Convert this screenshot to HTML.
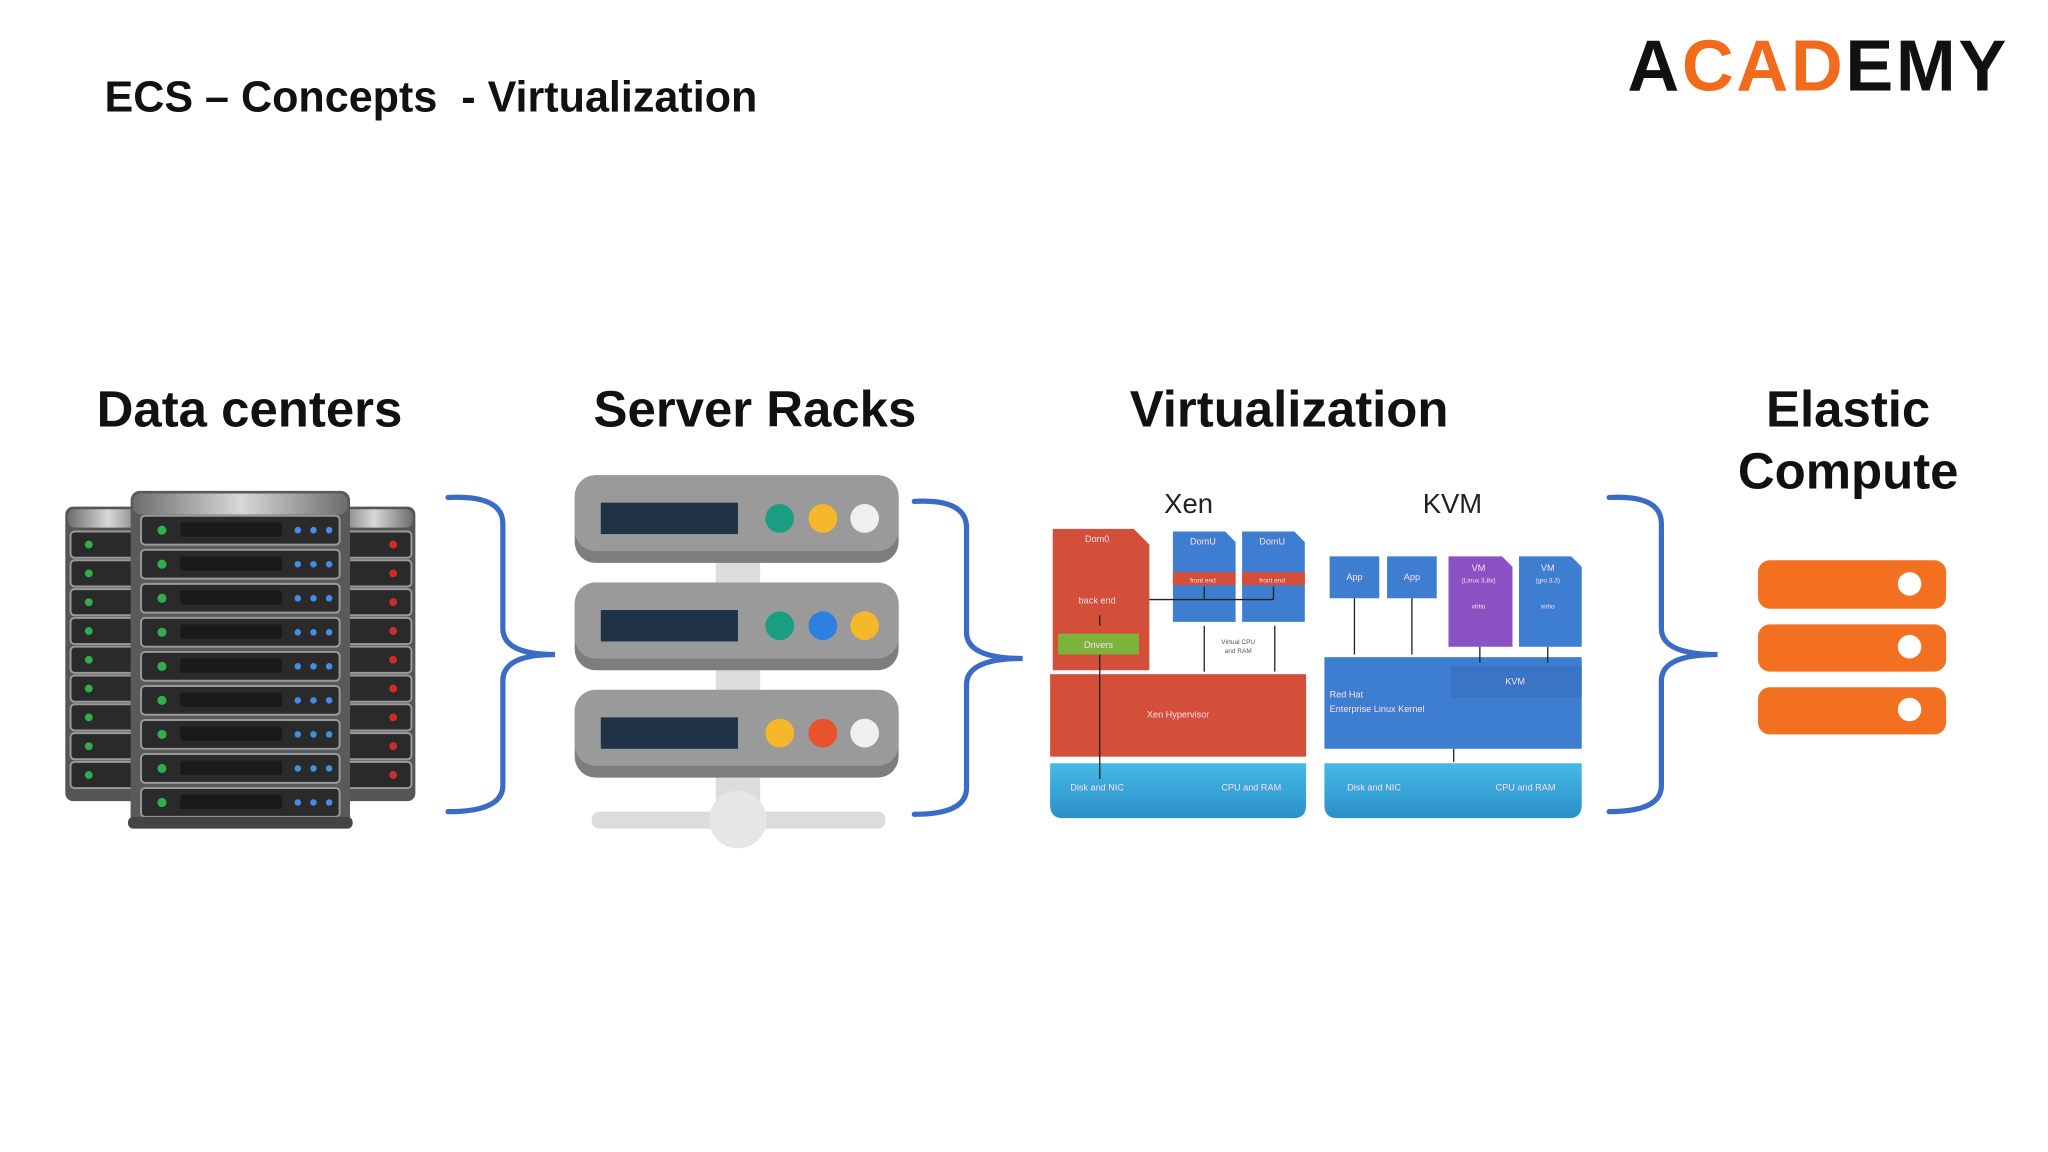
<!DOCTYPE html>
<html><head><meta charset="utf-8"><style>
html,body{margin:0;padding:0;background:#fff;width:2048px;height:1152px;overflow:hidden}
svg{display:block}
text{font-family:"Liberation Sans",sans-serif}
</style></head><body>
<svg width="2048" height="1152" viewBox="0 0 1568 880" preserveAspectRatio="none" xmlns="http://www.w3.org/2000/svg">
<defs>
<linearGradient id="mg" x1="0" x2="1"><stop offset="0" stop-color="#6d6d6d"/><stop offset="0.5" stop-color="#d8d8d8"/><stop offset="1" stop-color="#6d6d6d"/></linearGradient>
<linearGradient id="bl" x1="0" y1="0" x2="0" y2="1"><stop offset="0" stop-color="#47b9e6"/><stop offset="1" stop-color="#2a8fc9"/></linearGradient>
<g id="fu"><rect x="0" y="0" width="152" height="22" rx="3" fill="#2a2a2a" stroke="#9a9a9a" stroke-width="1.5"/><rect x="30" y="5" width="78" height="11" rx="2" fill="#1a1a1a"/><circle cx="16" cy="11" r="3.5" fill="#2fae4a"/><circle cx="120" cy="11" r="2.5" fill="#3f8fe8"/><circle cx="132" cy="11" r="2.5" fill="#3f8fe8"/><circle cx="144" cy="11" r="2.5" fill="#3f8fe8"/></g>
<g id="lu"><rect x="0" y="0" width="60" height="20" rx="3" fill="#2a2a2a" stroke="#9a9a9a" stroke-width="1.5"/><circle cx="14" cy="10" r="3" fill="#2fae4a"/></g>
<g id="ru"><rect x="0" y="0" width="60" height="20" rx="3" fill="#2a2a2a" stroke="#9a9a9a" stroke-width="1.5"/><circle cx="46" cy="10" r="3" fill="#d22a2a"/></g>
</defs>

<text x="80" y="85" font-size="33" font-weight="bold" fill="#111" xml:space="preserve">ECS – Concepts  - Virtualization</text>
<text x="1246" y="69" font-size="55" font-weight="bold" fill="#111" letter-spacing="2">A<tspan fill="#f26b1d">C</tspan><tspan fill="#f26b1d">A</tspan><tspan fill="#f26b1d">D</tspan>EMY</text>

<g font-size="39" font-weight="bold" fill="#111" text-anchor="middle">
<text x="191" y="326">Data centers</text>
<text x="578" y="326">Server Racks</text>
<text x="987" y="326">Virtualization</text>
<text x="1415" y="326">Elastic</text>
<text x="1415" y="373">Compute</text>
</g>

<!-- data center racks -->
<rect x="50" y="387" width="65" height="225" rx="6" fill="#555"/>
<rect x="52" y="389" width="61" height="14" rx="5" fill="url(#mg)"/>
<rect x="255" y="387" width="63" height="225" rx="6" fill="#555"/>
<rect x="257" y="389" width="59" height="14" rx="5" fill="url(#mg)"/>
<use href="#lu" x="54" y="406"/><use href="#lu" x="54" y="428"/><use href="#lu" x="54" y="450"/><use href="#lu" x="54" y="472"/><use href="#lu" x="54" y="494"/><use href="#lu" x="54" y="516"/><use href="#lu" x="54" y="538"/><use href="#lu" x="54" y="560"/><use href="#lu" x="54" y="582"/>
<use href="#ru" x="255" y="406"/><use href="#ru" x="255" y="428"/><use href="#ru" x="255" y="450"/><use href="#ru" x="255" y="472"/><use href="#ru" x="255" y="494"/><use href="#ru" x="255" y="516"/><use href="#ru" x="255" y="538"/><use href="#ru" x="255" y="560"/><use href="#ru" x="255" y="582"/>
<rect x="100" y="375" width="168" height="257" rx="7" fill="#5a5a5a"/>
<rect x="102" y="377" width="164" height="16" rx="6" fill="url(#mg)"/>
<use href="#fu" x="108" y="394"/><use href="#fu" x="108" y="420"/><use href="#fu" x="108" y="446"/><use href="#fu" x="108" y="472"/><use href="#fu" x="108" y="498"/><use href="#fu" x="108" y="524"/><use href="#fu" x="108" y="550"/><use href="#fu" x="108" y="576"/><use href="#fu" x="108" y="602"/>
<rect x="98" y="624" width="172" height="9" rx="4" fill="#444"/>

<!-- braces -->
<g fill="none" stroke="#3a6cc6" stroke-width="4" stroke-linecap="round">
<path d="M343 380 Q385 378 385 400 L385 480 Q385 500 425 500 Q385 500 385 520 L385 600 Q385 620 343 620"/>
<path d="M700 383 Q740 381 740 403 L740 483 Q740 503 783 503 Q740 503 740 523 L740 602 Q740 622 700 622"/>
<path d="M1232 380 Q1272 378 1272 400 L1272 480 Q1272 500 1315 500 Q1272 500 1272 520 L1272 600 Q1272 620 1232 620"/>
</g>

<!-- server racks -->
<rect x="548" y="425" width="34" height="195" fill="#dcdcdc"/>
<rect x="453" y="620" width="225" height="13" rx="6" fill="#dcdcdc"/>
<circle cx="565" cy="626" r="22" fill="#e6e6e6"/>
<g>
<rect x="440" y="363" width="248" height="67" rx="16" fill="#7d7d7d"/><rect x="440" y="363" width="248" height="58" rx="16" fill="#9a9a9a"/>
<rect x="460" y="384" width="105" height="24" fill="#1f3246"/>
<circle cx="597" cy="396" r="11" fill="#1a9e83"/><circle cx="630" cy="396" r="11" fill="#f5b82a"/><circle cx="662" cy="396" r="11" fill="#efefef"/>
<rect x="440" y="445" width="248" height="67" rx="16" fill="#7d7d7d"/><rect x="440" y="445" width="248" height="58" rx="16" fill="#9a9a9a"/>
<rect x="460" y="466" width="105" height="24" fill="#1f3246"/>
<circle cx="597" cy="478" r="11" fill="#1a9e83"/><circle cx="630" cy="478" r="11" fill="#2d7fe0"/><circle cx="662" cy="478" r="11" fill="#f5b82a"/>
<rect x="440" y="527" width="248" height="67" rx="16" fill="#7d7d7d"/><rect x="440" y="527" width="248" height="58" rx="16" fill="#9a9a9a"/>
<rect x="460" y="548" width="105" height="24" fill="#1f3246"/>
<circle cx="597" cy="560" r="11" fill="#f5b82a"/><circle cx="630" cy="560" r="11" fill="#e8532b"/><circle cx="662" cy="560" r="11" fill="#efefef"/>
</g>

<!-- virtualization -->
<text x="910" y="392" font-size="21" text-anchor="middle" fill="#222">Xen</text>
<text x="1112" y="392" font-size="21" text-anchor="middle" fill="#222">KVM</text>
<g font-size="7" fill="#fde" text-anchor="middle">
<path d="M806 404 H868 L880 416 V512 H806 Z" fill="#d44f3a"/>
<text x="840" y="414">Dom0</text>
<text x="840" y="461">back end</text>
<rect x="810" y="484" width="62" height="16" fill="#7cb33a"/><text x="841" y="495">Drivers</text>
<path d="M898 406 H938 L946 414 V475 H898 Z" fill="#3d7ed0"/>
<rect x="898" y="437" width="48" height="10" fill="#d44f3a"/>
<text x="921" y="416">DomU</text><text x="921" y="445" font-size="5">front end</text>
<path d="M951 406 H991 L999 414 V475 H951 Z" fill="#3d7ed0"/>
<rect x="951" y="437" width="48" height="10" fill="#d44f3a"/>
<text x="974" y="416">DomU</text><text x="974" y="445" font-size="5">front end</text>
<rect x="804" y="515" width="196" height="63" fill="#d44f3a"/>
<text x="902" y="548">Xen Hypervisor</text>
<path d="M804 583 H1000 V615 Q1000 625 990 625 H814 Q804 625 804 615 Z" fill="url(#bl)"/>
<text x="840" y="604">Disk and NIC</text><text x="958" y="604">CPU and RAM</text>
<text x="948" y="492" fill="#555" font-size="5">Virtual CPU</text><text x="948" y="499" fill="#555" font-size="5">and RAM</text>
<g stroke="#222" stroke-width="1" fill="none">
<path d="M880 458 H975 M922 448 V458 M975 448 V458"/>
<path d="M842 470 V478 M842 500 V595"/>
<path d="M922 478 V513 M976 478 V513"/>
</g>
<rect x="1018" y="425" width="38" height="32" fill="#3d7ed0"/><text x="1037" y="443">App</text>
<rect x="1062" y="425" width="38" height="32" fill="#3d7ed0"/><text x="1081" y="443">App</text>
<path d="M1109 425 H1150 L1158 433 V494 H1109 Z" fill="#8a52c2"/>
<text x="1132" y="436">VM</text><text x="1132" y="445" font-size="5">(Linux 3.8x)</text><text x="1132" y="465" font-size="5">virtio</text>
<path d="M1163 425 H1203 L1211 433 V494 H1163 Z" fill="#3d7ed0"/>
<text x="1185" y="436">VM</text><text x="1185" y="445" font-size="5">(gro 3.3)</text><text x="1185" y="465" font-size="5">virtio</text>
<rect x="1014" y="502" width="197" height="70" fill="#3d7ed0"/>
<rect x="1111" y="509" width="100" height="24" fill="#3a74c4"/><text x="1160" y="523">KVM</text>
<text x="1018" y="533" text-anchor="start">Red Hat</text><text x="1018" y="544" text-anchor="start">Enterprise Linux Kernel</text>
<path d="M1014 583 H1211 V615 Q1211 625 1201 625 H1024 Q1014 625 1014 615 Z" fill="url(#bl)"/>
<text x="1052" y="604">Disk and NIC</text><text x="1168" y="604">CPU and RAM</text>
<g stroke="#222" stroke-width="1"><path d="M1037 457 V500 M1081 457 V500 M1133 494 V506 M1185 494 V506 M1113 572 V582"/></g>
</g>

<!-- elastic compute -->
<rect x="1346" y="428" width="144" height="37" rx="9" fill="#f37021"/><circle cx="1462" cy="446" r="9" fill="#fff"/>
<rect x="1346" y="477" width="144" height="36" rx="9" fill="#f37021"/><circle cx="1462" cy="494" r="9" fill="#fff"/>
<rect x="1346" y="525" width="144" height="36" rx="9" fill="#f37021"/><circle cx="1462" cy="542" r="9" fill="#fff"/>
</svg>
</body></html>
